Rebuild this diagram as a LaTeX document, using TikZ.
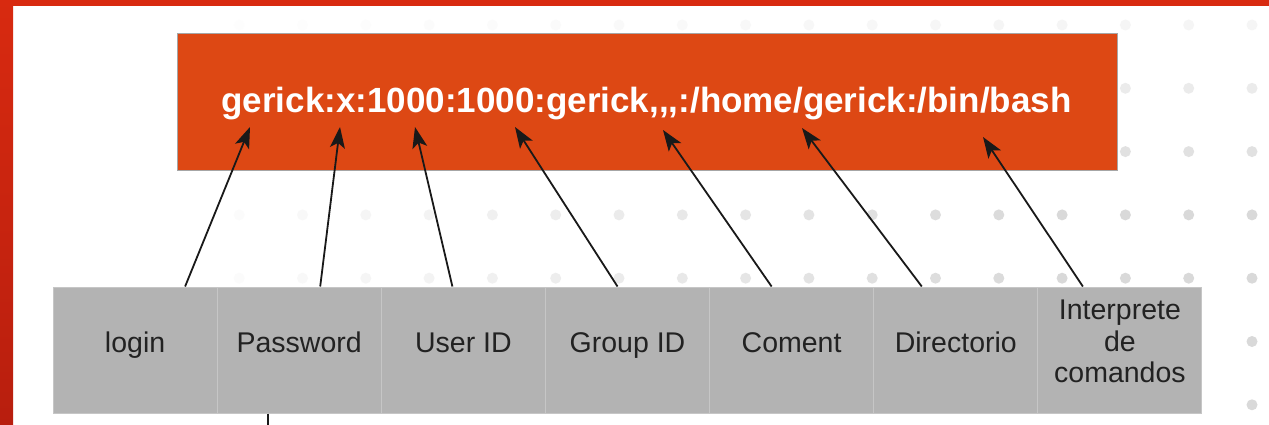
\documentclass[tikz,border=0pt]{standalone}
\usepackage{fontspec}
\setmainfont{Liberation Sans}
\usetikzlibrary{arrows.meta}
\definecolor{ubuorange}{HTML}{DD4814}
\definecolor{framered}{HTML}{D82A10}
\definecolor{framedark}{HTML}{B81E0E}
\definecolor{cellgray}{HTML}{B3B3B3}
\definecolor{cellline}{HTML}{C6C6C6}
\definecolor{labeltext}{HTML}{222222}
\tikzset{
  field/.style={fill=cellgray, draw=cellline, line width=1pt, minimum width=164.14pt,
    minimum height=126pt, inner sep=0pt, text=labeltext, align=center,
    font=\fontsize{28.5}{31.5}\selectfont},
  oneline/.style={text height=14pt, text depth=10pt},
  pointer/.style={line width=1.8pt, draw=black!90,
    -{Stealth[length=21pt,width=15pt,inset=5pt,fill=black!90]}},
  dot/.style={fill=black!15, draw=none}
}
\begin{document}
\begin{tikzpicture}[x=1pt,y=-1pt]
  \useasboundingbox (0,0) rectangle (1269,425);
  \fill[white] (0,0) rectangle (1269,425);
  % dotted backdrop, fading towards the upper left
  \foreach \i in {0,...,16}{
    \foreach \j in {0,...,6}{
      \pgfmathsetmacro{\px}{1252-63.3*\i}
      \pgfmathsetmacro{\py}{25+63.3*\j}
      \pgfmathsetmacro{\op}{max(0,min(1,(\px-150)/900))*min(1,(\py+40)/250)}
      \fill[dot, opacity=\op] (\px,\py) circle (5.5pt);
    }
  }
  % frame
  \shade[top color=framered, bottom color=framedark] (0,0) rectangle (13,425);
  \fill[framered] (0,0) rectangle (1269,6);
  % passwd entry
  \node[fill=ubuorange, draw=gray!70, line width=0.8pt, minimum width=940pt,
    minimum height=137pt, inner sep=0pt] (entry) at (647,101.5) {};
  \node[anchor=base, text=white, font=\fontsize{35}{40}\selectfont\bfseries] (line) at (646.5,113)
    {gerick:x:1000:1000:gerick,{},{},{}:/home/gerick:/bin/bash};
  % target points in the entry
  \coordinate (tlogin) at (250,127);
  \coordinate (tpass) at (340,127);
  \coordinate (tuid) at (415,127);
  \coordinate (tgid) at (515,127);
  \coordinate (tcom) at (663,130);
  \coordinate (tdir) at (802,128);
  \coordinate (tsh) at (983,137);
  % fields
  \node[field, oneline] (login) at (135.1,350) {login};
  \node[field, oneline] (pass) at (299.2,350) {Password};
  \node[field, oneline] (uid) at (463.4,350) {User ID};
  \node[field, oneline] (gid) at (627.5,350) {Group ID};
  \node[field, oneline] (com) at (791.6,350) {Coment};
  \node[field, oneline] (dir) at (955.8,350) {Directorio};
  \node[field, text depth=17pt] (sh) at (1119.9,350) {Interprete\\de\\comandos};
  % pointers
  \draw[pointer] ([xshift=50pt]login.north) -- (tlogin);
  \draw[pointer] ([xshift=21pt]pass.north) -- (tpass);
  \draw[pointer] ([xshift=-11pt]uid.north) -- (tuid);
  \draw[pointer] ([xshift=-10pt]gid.north) -- (tgid);
  \draw[pointer] ([xshift=-20pt]com.north) -- (tcom);
  \draw[pointer] ([xshift=-34pt]dir.north) -- (tdir);
  \draw[pointer] ([xshift=-37pt]sh.north) -- (tsh);
  % line leaving the password field
  \coordinate (passout) at (268,425);
  \draw[line width=1.8pt, black!90] ([xshift=-31.2pt]pass.south) -- (passout);
\end{tikzpicture}
\end{document}
